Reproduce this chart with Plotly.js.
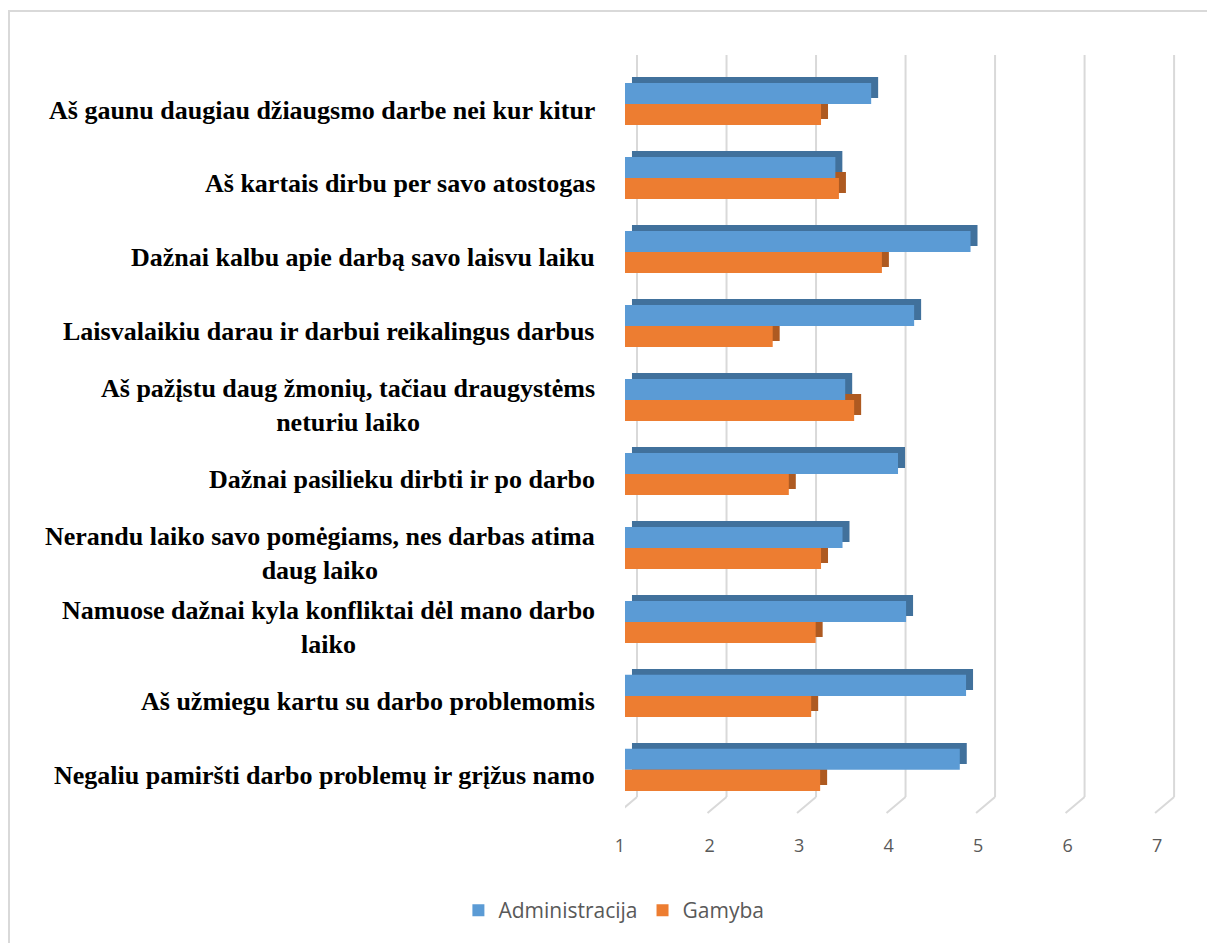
<!DOCTYPE html>
<html>
<head>
<meta charset="utf-8">
<script src="https://cdn.plot.ly/plotly-3.0.1.min.js"></script>
<style>
html,body{margin:0;padding:0;background:#fff;}
#wrap{position:relative;width:1207px;height:943px;overflow:hidden;}
#frame{position:absolute;left:8px;top:10px;width:1300px;height:1000px;border:2px solid #d9d9d9;box-sizing:border-box;pointer-events:none;}
#chart{position:absolute;left:0;top:0;width:1207px;height:943px;}
</style>
</head>
<body>
<div id="wrap"><div id="chart"></div><div id="frame"></div></div>
<script>
// Categories, top to bottom
const categories = [
  "Aš gaunu daugiau džiaugsmo darbe nei kur kitur",
  "Aš kartais dirbu per savo atostogas",
  "Dažnai kalbu apie darbą savo laisvu laiku",
  "Laisvalaikiu darau ir darbui reikalingus darbus",
  "Aš pažįstu daug žmonių, tačiau draugystėms<br>neturiu laiko",
  "Dažnai pasilieku dirbti ir po darbo",
  "Nerandu laiko savo pomėgiams, nes darbas atima<br>daug laiko",
  "Namuose dažnai kyla konfliktai dėl mano darbo<br>laiko",
  "Aš užmiegu kartu su darbo problemomis",
  "Negaliu pamiršti darbo problemų ir grįžus namo"
];
const administracija = [3.75, 3.35, 4.86, 4.23, 3.46, 4.05, 3.43, 4.14, 4.81, 4.74];
const gamyba         = [3.19, 3.39, 3.87, 2.65, 3.56, 2.83, 3.19, 3.13, 3.08, 3.18];
const xTicks = [1, 2, 3, 4, 5, 6, 7];
const seriesNames = ["Administracija", "Gamyba"];

const BAR_W = 0.284;   // bar thickness (category units)
const DX = 0.078;      // depth shift right (value units)
const DY = 0.08;       // depth shift up (category units)
const AXIS_MIN = 1;

const blue = "#5b9bd5", blueDark = "#41719c";
const orange = "#ed7d31", orangeDark = "#ae5a21";

function depthTrace(vals, color, offset) {
  return {
    type: "bar", orientation: "h",
    y: categories, x: vals.map(v => v - AXIS_MIN),
    base: AXIS_MIN + DX,
    offset: offset, width: BAR_W,
    marker: {color: color, line: {width: 0}},
    showlegend: false, hoverinfo: "skip"
  };
}
function frontTrace(vals, color, offset, name) {
  return {
    type: "bar", orientation: "h", name: name,
    y: categories, x: vals.map(v => v - AXIS_MIN),
    base: AXIS_MIN,
    offset: offset, width: BAR_W,
    marker: {color: color, line: {width: 0}},
    hovertemplate: "%{y}: %{x}<extra>" + name + "</extra>"
  };
}

const traces = [
  depthTrace(administracija, blueDark, -BAR_W - DY),
  depthTrace(gamyba, orangeDark, -DY),
  frontTrace(administracija, blue, -BAR_W, seriesNames[0]),
  frontTrace(gamyba, orange, 0, seriesNames[1])
];

const shapes = [];
xTicks.forEach(t => {
  // back-wall gridline
  shapes.push({type: "line", xref: "x", xsizemode: "pixel", xanchor: t, x0: 12, x1: 12,
    yref: "paper", y0: 0.0235, y1: 0.9935, line: {color: "#d9d9d9", width: 2}, layer: "below"});
  // floor diagonal
  shapes.push({type: "line", xref: "x", xsizemode: "pixel", xanchor: t, x0: 12, x1: -7,
    yref: "paper", ysizemode: "pixel", yanchor: 0, y0: 18, y1: 2, line: {color: "#d9d9d9", width: 2}, layer: "below"});
});

const annotations = categories.map(c => ({
  xref: "paper", x: 0, xanchor: "right", xshift: -28,
  yref: "y", y: c, yanchor: "middle", yshift: -6,
  text: c, showarrow: false, align: "center",
  font: {family: "Liberation Serif, Times New Roman, serif", size: 26, color: "#000", weight: "bold"}
}));

const layout = {
  width: 1207, height: 943,
  margin: {l: 625, r: 27, t: 50, b: 128},
  paper_bgcolor: "#fff", plot_bgcolor: "rgba(0,0,0,0)",
  barmode: "overlay",
  showlegend: true,
  xaxis: {
    range: [1, 7.2], tickvals: xTicks, ticktext: xTicks.map(String),
    showgrid: false, zeroline: false, showline: false, ticks: "",
    ticklabelstandoff: 18, ticklabelshift: -5,
    tickfont: {family: "Open Sans, Liberation Sans, sans-serif", size: 18, color: "#595959"}
  },
  yaxis: {
    type: "category", range: [9.61, -0.73],
    showticklabels: false, showgrid: false, zeroline: false, showline: false, ticks: ""
  },
  legend: {
    orientation: "h", x: -0.02, xanchor: "center", y: -0.125, yanchor: "middle",
    font: {family: "Open Sans, Liberation Sans, sans-serif", size: 21, color: "#595959"},
    itemwidth: 30
  },
  shapes: shapes,
  annotations: annotations
};

Plotly.newPlot("chart", traces, layout, {displayModeBar: false, staticPlot: true});
</script>
</body>
</html>
